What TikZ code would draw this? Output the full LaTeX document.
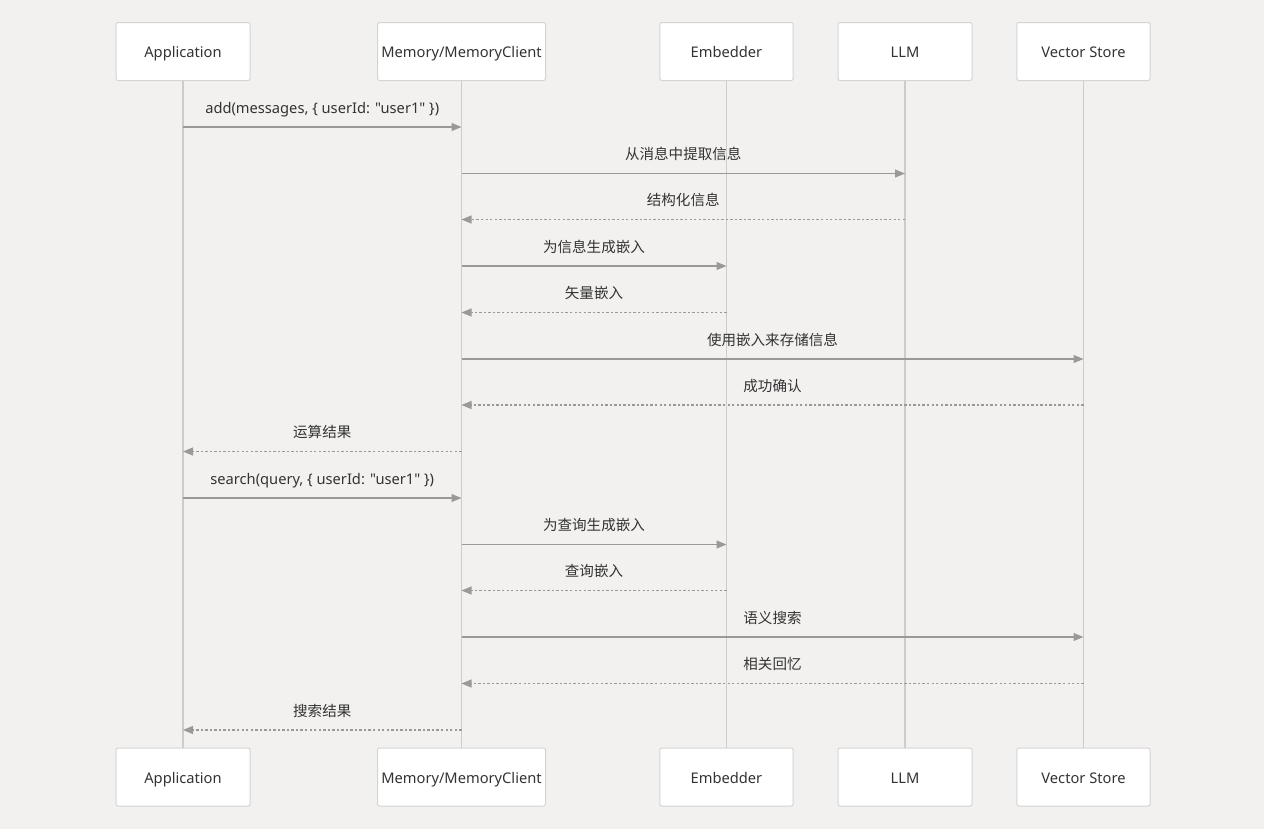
\documentclass[tikz,border=0pt]{standalone}
\usepackage{fontspec}
\setmainfont{Noto Sans}
\newfontfamily\latin{Noto Sans}
\newfontfamily\cjk{Noto Sans CJK SC}
\usetikzlibrary{arrows.meta}
\definecolor{bg}{HTML}{F2F1EF}
\definecolor{boxline}{HTML}{D4D4D4}
\definecolor{lifeline}{HTML}{CCCCCC}
\definecolor{msgline}{HTML}{999999}
\definecolor{txt}{HTML}{333333}
\tikzset{
  actor/.style={draw=boxline, fill=white, rounded corners=1.5pt, line width=0.75pt,
    minimum height=43.5pt, text=txt, font=\fontsize{11}{13}\selectfont\latin, inner sep=0pt,
    text height=10pt, text depth=0.5pt},
  life/.style={draw=lifeline, line width=1.1pt},
  sync/.style={draw=msgline, line width=0.8pt, -{Triangle[length=7.5pt,width=6pt]}},
  reply/.style={sync, dash pattern=on 1.8pt off 1.6pt},
  lbl/.style={midway, yshift=13.1pt, text=txt, font=\fontsize{10.9}{12}\selectfont\cjk, inner sep=0pt,
    text height=7.6pt, text depth=2.4pt},
  lbllat/.style={lbl, font=\fontsize{11}{13}\selectfont\latin},
}
\begin{document}
\begin{tikzpicture}[x=0.75pt,y=-0.75pt]
\fill[bg] (0,0) rectangle (1264,829);
\useasboundingbox (0,0) rectangle (1264,829);
% top actors
\node[actor, minimum width=100.5pt] (appT) at (183,51.5) {Application};
\node[actor, minimum width=126pt] (memT) at (461.5,51.5) {Memory/MemoryClient};
\node[actor, minimum width=100pt] (embT) at (726.5,51.5) {Embedder};
\node[actor, minimum width=100.5pt] (llmT) at (905,51.5) {LLM};
\node[actor, minimum width=100pt] (vsT) at (1083.5,51.5) {Vector Store};
% bottom actors
\node[actor, minimum width=100.5pt] (appB) at (183,777) {Application};
\node[actor, minimum width=126pt] (memB) at (461.5,777) {Memory/MemoryClient};
\node[actor, minimum width=100pt] (embB) at (726.5,777) {Embedder};
\node[actor, minimum width=100.5pt] (llmB) at (905,777) {LLM};
\node[actor, minimum width=100pt] (vsB) at (1083.5,777) {Vector Store};
% lifelines
\foreach \n in {app,mem,emb,llm,vs}{\draw[life] (\n T.south) -- (\n B.north);}
% message rows
\coordinate (r1) at (0,127);
\coordinate (r2) at (0,173.5);
\coordinate (r3) at (0,219.5);
\coordinate (r4) at (0,266);
\coordinate (r5) at (0,312.5);
\coordinate (r6) at (0,359);
\coordinate (r7) at (0,405);
\coordinate (r8) at (0,451.5);
\coordinate (r9) at (0,498);
\coordinate (r10) at (0,544.5);
\coordinate (r11) at (0,590.5);
\coordinate (r12) at (0,637);
\coordinate (r13) at (0,683.5);
\coordinate (r14) at (0,730);
\draw[sync] (appT |- r1) -- (memT |- r1) node[lbllat] {add(messages, \{ userId: "user1" \})};
\draw[sync] (memT |- r2) -- (llmT |- r2) node[lbl] {从消息中提取信息};
\draw[reply] (llmT |- r3) -- (memT |- r3) node[lbl] {结构化信息};
\draw[sync] (memT |- r4) -- (embT |- r4) node[lbl] {为信息生成嵌入};
\draw[reply] (embT |- r5) -- (memT |- r5) node[lbl] {矢量嵌入};
\draw[sync] (memT |- r6) -- (vsT |- r6) node[lbl] {使用嵌入来存储信息};
\draw[reply] (vsT |- r7) -- (memT |- r7) node[lbl] {成功确认};
\draw[reply] (memT |- r8) -- (appT |- r8) node[lbl] {运算结果};
\draw[sync] (appT |- r9) -- (memT |- r9) node[lbllat] {search(query, \{ userId: "user1" \})};
\draw[sync] (memT |- r10) -- (embT |- r10) node[lbl] {为查询生成嵌入};
\draw[reply] (embT |- r11) -- (memT |- r11) node[lbl] {查询嵌入};
\draw[sync] (memT |- r12) -- (vsT |- r12) node[lbl] {语义搜索};
\draw[reply] (vsT |- r13) -- (memT |- r13) node[lbl] {相关回忆};
\draw[reply] (memT |- r14) -- (appT |- r14) node[lbl] {搜索结果};
\end{tikzpicture}
\end{document}
